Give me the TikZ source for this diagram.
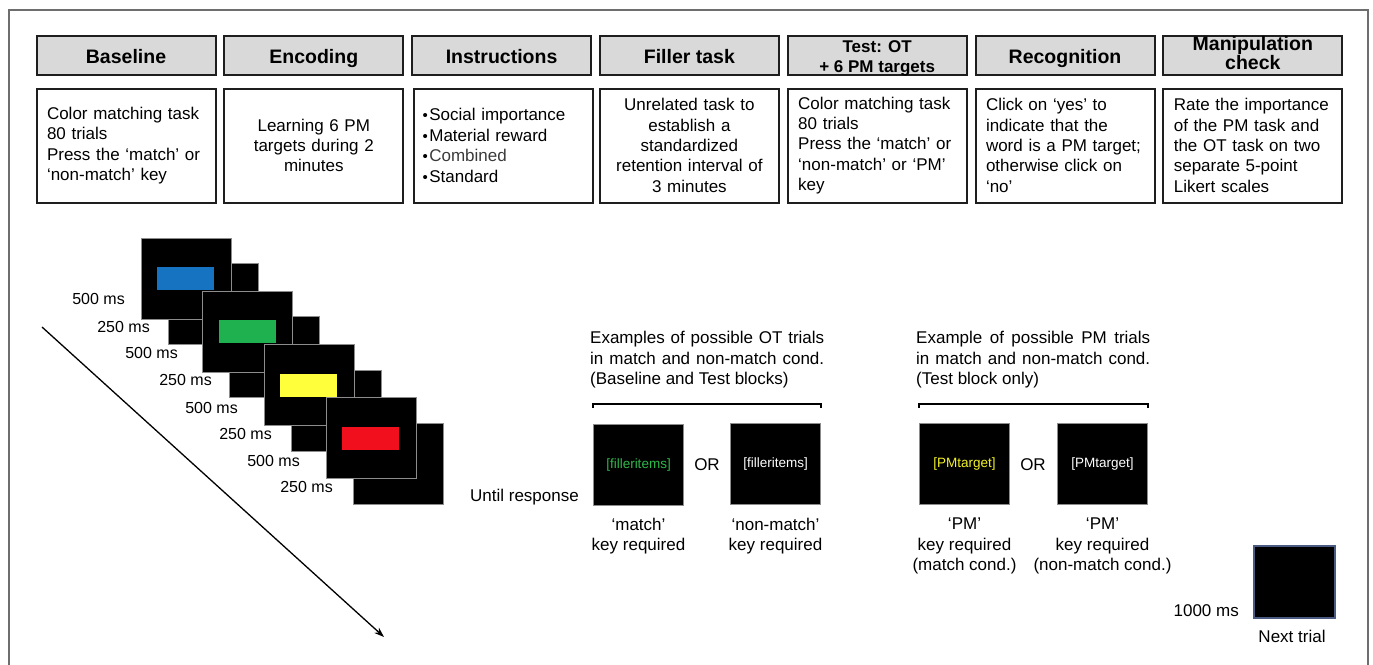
\documentclass[tikz,border=0pt]{standalone}
\usepackage{fontspec}
\setmainfont{Liberation Sans}
\usetikzlibrary{arrows.meta}
\definecolor{hdrgray}{HTML}{D9D9D9}
\definecolor{boxline}{HTML}{1E1E1E}
\definecolor{framegray}{HTML}{6E6E6E}
\definecolor{scrline}{HTML}{8C8C8C}
\definecolor{cblue}{HTML}{1673C2}
\definecolor{cgreen}{HTML}{1FB150}
\definecolor{cyellow}{HTML}{FFFF3C}
\definecolor{cred}{HTML}{F10F1E}
\definecolor{tgreen}{HTML}{2DB84A}
\definecolor{tyellow}{HTML}{F2F226}
\definecolor{nextline}{HTML}{4A5A80}
\begin{document}
\begin{tikzpicture}[x=1pt,y=-1pt,
  hdr/.style={draw=boxline, line width=2pt, fill=hdrgray, minimum width=179pt, minimum height=39pt,
    inner sep=0pt, align=center, font=\fontsize{19.5}{19}\selectfont\bfseries},
  hdrone/.style={hdr, text height=16pt, text depth=0pt},
  cbox/.style={draw=boxline, line width=2pt, minimum width=179pt, minimum height=114pt,
    inner sep=0pt, font=\fontsize{17}{20.4}\selectfont},
  lbox/.style={cbox, text width=158pt, align=left},
  ctbox/.style={cbox, text width=170pt, align=center},
  screen/.style={draw=scrline, line width=1pt, fill=black},
  trial/.style={draw=scrline, line width=1.2pt, fill=black, minimum width=90pt, minimum height=81pt, inner sep=0pt,
    font=\fontsize{13.5}{14}\selectfont},
  lbl/.style={inner sep=0pt, font=\fontsize{17}{20.2}\selectfont, align=center},
  tlbl/.style={inner sep=0pt, anchor=east, font=\fontsize{16}{18}\selectfont},
  bracket/.style={line width=1.6pt, black}
]
\useasboundingbox (0,0) rectangle (1373,664);
% outer frame
\draw[framegray, line width=1.5pt] (9,670) -- (9,10) -- (1368,10) -- (1368,670);

% header boxes
\node[hdrone] (h1) at (126,55) {Baseline};
\node[hdrone] (h2) at (313.8,55) {Encoding};
\node[hdrone] (h3) at (501.6,55) {Instructions};
\node[hdrone] (h4) at (689.4,55) {Filler task};
\node[hdr] (h5) at (877.2,55) {};
\node[inner sep=0pt, align=center, font=\fontsize{17}{20}\selectfont\bfseries] (h5t) at (877.2,58) {Test: OT\\+ 6 PM targets};
\node[hdrone] (h6) at (1065,55) {Recognition};
\node[hdr] (h7) at (1252.8,55) {};
\node[inner sep=0pt, align=center, font=\fontsize{19.5}{19}\selectfont\bfseries] (h7t) at (1252.8,53) {Manipulation\\check};

% content boxes
\node[lbox] (c1) at (126,145.5) {Color matching task\\80 trials\\Press the ‘match’ or\\‘non-match’ key};
\node[ctbox] (c2) at (313.8,145.5) {Learning 6 PM\\targets during 2\\minutes};
\node[lbox, text width=162pt] (c3) at (503.6,145.5) {{\fontsize{15}{15}\selectfont•}\kern1.5pt Social importance\\{\fontsize{15}{15}\selectfont•}\kern1.5pt Material reward\\{\fontsize{15}{15}\selectfont•}\kern1.5pt {\color[HTML]{3A3A3A}Combined}\\{\fontsize{15}{15}\selectfont•}\kern1.5pt Standard};
\node[ctbox] (c4) at (689.4,145.5) {Unrelated task to\\establish a\\standardized\\retention interval of\\3 minutes};
\node[lbox] (c5) at (877.2,145.5) {Color matching task\\80 trials\\Press the ‘match’ or\\‘non-match’ or ‘PM’\\key};
\node[lbox] (c6) at (1065,145.5) {Click on ‘yes’ to\\indicate that the\\word is a PM target;\\otherwise click on\\‘no’};
\node[lbox] (c7) at (1252.8,145.5) {Rate the importance\\of the PM task and\\the OT task on two\\separate 5-point\\Likert scales};

% blank screens (behind)
\foreach \i in {0,1,2,3}{
  \pgfmathsetmacro{\bx}{168+61.7*\i}
  \pgfmathsetmacro{\by}{263.5+53.3*\i}
  \draw[screen] (\bx,\by) rectangle ++(90,81);
}
% colour screens
\foreach \i/\c in {0/cblue,1/cgreen,2/cyellow,3/cred}{
  \pgfmathsetmacro{\sx}{141+61.7*\i}
  \pgfmathsetmacro{\sy}{238+53.3*\i}
  \draw[screen] (\sx,\sy) rectangle ++(90,81);
  \fill[\c] (\sx+16,\sy+29) rectangle ++(57,23);
}
% time labels
\node[tlbl] (t1) at (125,299) {500 ms};
\node[tlbl] (t2) at (150,327) {250 ms};
\node[tlbl] (t3) at (178,353) {500 ms};
\node[tlbl] (t4) at (212,380) {250 ms};
\node[tlbl] (t5) at (238,408) {500 ms};
\node[tlbl] (t6) at (272,434) {250 ms};
\node[tlbl] (t7) at (300,461) {500 ms};
\node[tlbl] (t8) at (333,487) {250 ms};

% time arrow
\coordinate (arA) at (42,327);
\coordinate (arB) at (384,637);
\draw[line width=1.3pt, -{Stealth[length=10pt,width=7pt]}] (arA) -- (arB);

% OT trials
\node[anchor=north west, inner sep=0pt, align=left, font=\fontsize{17}{20.5}\selectfont] (otdesc) at (590,331)
  {\makebox[234pt][s]{Examples of possible OT trials}\\\makebox[234pt][s]{in match and non-match cond.}\\(Baseline and Test blocks)};
\node[trial] (ot1) at (638.5,465) {\color{tgreen}[filleritems]};
\node[trial] (ot2) at (775.5,464) {\color{white}[filleritems]};
\node[lbl] (or1) at (707,465) {OR};
\draw[bracket] ([yshift=16pt]ot1.north west) -- ([yshift=20pt]ot1.north west) -- ([yshift=19pt]ot2.north east) -- ([yshift=15pt]ot2.north east);
\node[lbl, anchor=east] (until) at (579,497) {Until response};
\node[lbl] (k1) at (638.5,536) {‘match’\\key required};
\node[lbl] (k2) at (775.5,536) {‘non-match’\\key required};

% PM trials
\node[anchor=north west, inner sep=0pt, align=left, font=\fontsize{17}{20.5}\selectfont] (pmdesc) at (916,331)
  {\makebox[234pt][s]{Example of possible PM trials}\\\makebox[234pt][s]{in match and non-match cond.}\\(Test block only)};
\node[trial] (pm1) at (964.5,464) {\color{tyellow}[PMtarget]};
\node[trial] (pm2) at (1102.5,464) {\color{white}[PMtarget]};
\node[lbl] (or2) at (1033,465) {OR};
\draw[bracket] ([yshift=15pt]pm1.north west) -- ([yshift=19pt]pm1.north west) -- ([yshift=19pt]pm2.north east) -- ([yshift=15pt]pm2.north east);
\node[lbl] (k3) at (964.5,546) {‘PM’\\key required\\(match cond.)};
\node[lbl] (k4) at (1102.5,546) {‘PM’\\key required\\(non-match cond.)};

% next trial
\node[draw=nextline, line width=1.2pt, fill=black, minimum width=81pt, minimum height=72pt, inner sep=0pt] (next) at (1294.5,582) {};
\node[tlbl, font=\fontsize{17}{20}\selectfont] (ms1000) at (1239,611) {1000 ms};
\node[lbl] (nextlbl) at (1292,636) {Next trial};
\end{tikzpicture}
\end{document}
